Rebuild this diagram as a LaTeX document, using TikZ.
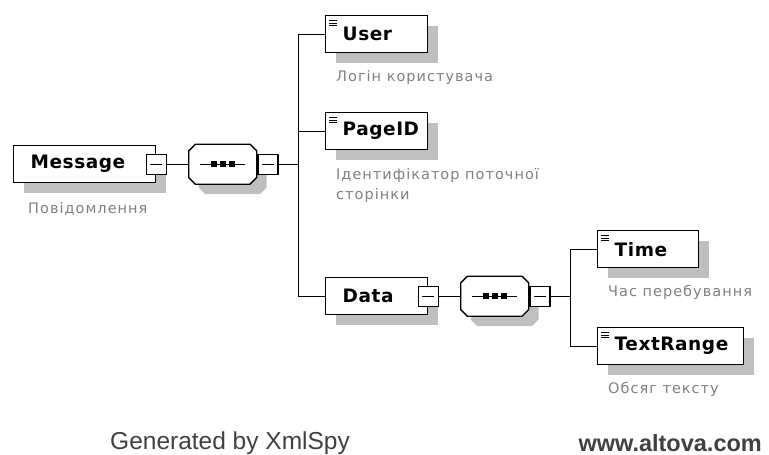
\documentclass[tikz,border=0pt]{standalone}
\usepackage{fontspec}
\setmainfont{DejaVu Sans}
\newfontfamily\notefont[LetterSpace=7]{DejaVu Sans}
\newfontfamily\elemfont[LetterSpace=3]{DejaVu Sans Bold}
\newfontfamily\footfont{Liberation Sans}
\usetikzlibrary{positioning, shapes.misc, shadows}
\tikzstyle{boxshadow} = [drop shadow={shadow xshift=10pt, shadow yshift=-10pt,
   shadow scale=1, opacity=1, fill=black!25}]
\tikzstyle{elem} = [draw, rectangle, fill=white, line width=1.4pt, boxshadow,
   minimum height=37pt, inner xsep=17pt, inner ysep=0pt, align=left,
   font=\elemfont\fontsize{18.5}{20}\selectfont]
\tikzstyle{seq} = [draw, chamfered rectangle, chamfered rectangle xsep=8pt,
   fill=white, line width=1.4pt, boxshadow, minimum width=68pt, minimum height=40pt]
\tikzstyle{minus} = [draw, rectangle, fill=white, line width=1.2pt,
   minimum size=20pt, inner sep=0pt,
   path picture={\draw[line width=1pt] ([xshift=4pt]path picture bounding box.west)
     -- ([xshift=-4pt]path picture bounding box.east);}]
\tikzstyle{note} = [anchor=north west, inner sep=0pt, align=left, text=black!50,
   font=\notefont\fontsize{14.5}{20}\selectfont]
\tikzstyle{conn} = [line width=1.3pt]

\begin{document}
\begin{tikzpicture}[x=1pt, y=-1pt]
  \useasboundingbox (0,0) rectangle (769,455);
  \node[elem, text width=108pt, anchor=north west] (msg) at (13,145) {Message};
  \node[minus] (msgminus) at (msg.east) {};
  \node[seq, right = 21pt of msgminus] (seq1) {};
  \node[minus, anchor=west] (seq1minus) at (seq1.east) {};
  \coordinate[right = 20pt of seq1minus] (bus1);
  \node[elem, text width=68pt, anchor=north west] (user) at (325,15) {User};
  \node[elem, text width=68pt, anchor=north west] (pageid) at (325,112) {PageID};
  \node[elem, text width=68pt, anchor=north west] (data) at (325,277) {Data};
  \node[minus] (dataminus) at (data.east) {};
  \node[seq, right = 21pt of dataminus] (seq2) {};
  \node[minus, anchor=west] (seq2minus) at (seq2.east) {};
  \coordinate[right = 20pt of seq2minus] (bus2);
  \node[elem, text width=67pt, anchor=north west] (time) at (597,230) {Time};
  \node[elem, text width=112pt, anchor=north west] (textrange) at (597,327) {TextRange};

  \node[note, below right = 19pt and 15pt of msg.south west] (msgnote) {Повідомлення};
  \node[note, below right = 17pt and 11pt of user.south west] (usernote) {Логін користувача};
  \node[note, below right = 18pt and 11pt of pageid.south west] (pageidnote)
    {Ідентифікатор поточної\\сторінки};
  \node[note, below right = 17pt and 11pt of time.south west] (timenote) {Час перебування};
  \node[note, below right = 17pt and 11pt of textrange.south west] (textrangenote) {Обсяг тексту};

  \foreach \s in {seq1,seq2} {
    \draw[line width=1.4pt] ([xshift=12pt]\s.west) -- ([xshift=-12pt]\s.east);
    \foreach \d in {-9,0,9}
      \fill ([shift={(\d-3,-3)}]\s.center) rectangle ([shift={(\d+3,3)}]\s.center);
  }
  \foreach \n in {user,pageid,time,textrange}
    \foreach \k in {0,1,2}
      \draw[line width=0.9pt] ([shift={(4,5.5+2.7*\k)}]\n.north west) -- ++(8,0);

  \draw[conn] (msgminus) -- (seq1);
  \draw[conn] (seq1minus) -- (bus1);
  \draw[conn] (bus1) |- (user);
  \draw[conn] (bus1) |- (pageid);
  \draw[conn] (bus1) |- (data);
  \draw[conn] (dataminus) -- (seq2);
  \draw[conn] (seq2minus) -- (bus2);
  \draw[conn] (bus2) |- (time);
  \draw[conn] (bus2) |- (textrange);

  \node[anchor=west, inner sep=0pt, text=black!75, font=\footfont\fontsize{24.5}{26}\selectfont]
    (gen) at (110,443) {Generated by XmlSpy};
  \node[anchor=east, inner sep=0pt, text=black!75, font=\footfont\bfseries\fontsize{23.5}{25}\selectfont]
    (altova) at (762,443) {www.altova.com};
\end{tikzpicture}
\end{document}
